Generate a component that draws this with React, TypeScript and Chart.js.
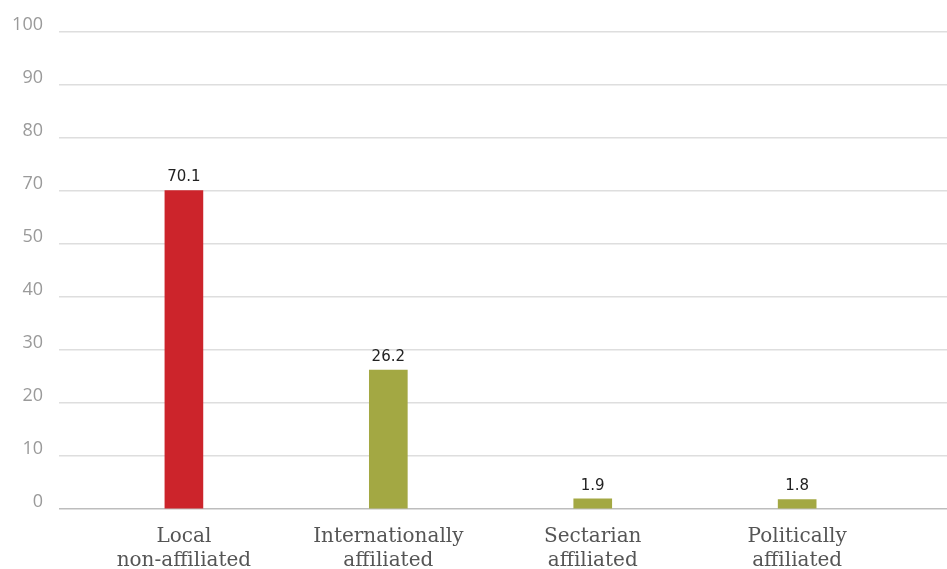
import React, { useEffect, useRef } from "react";
import { Chart, registerables } from "chart.js";

Chart.register(...registerables);

const categories: string[][] = [
  ["Local", "non-affiliated"],
  ["Internationally", "affiliated"],
  ["Sectarian", "affiliated"],
  ["Politically", "affiliated"],
];
const values: number[] = [70.1, 26.2, 1.9, 1.8];
const valueLabels: string[] = ["70.1", "26.2", "1.9", "1.8"];
const barColors: string[] = ["#cc242b", "#a3a843", "#a3a843", "#a3a843"];
const yTickLabels: number[] = [0, 10, 20, 30, 40, 50, 70, 80, 90, 100];

// The original axis skips 60: map a value onto the evenly spaced gridlines.
function toAxis(v: number): number {
  for (let i = 0; i < yTickLabels.length - 1; i++) {
    const a = yTickLabels[i];
    const b = yTickLabels[i + 1];
    if (v >= a && v <= b) return i + (v - a) / (b - a);
  }
  return yTickLabels.length - 1;
}

const valueLabelPlugin = {
  id: "valueLabels",
  afterDatasetsDraw(chart: any) {
    const ctx = chart.ctx;
    const meta = chart.getDatasetMeta(0);
    ctx.save();
    ctx.font = "15px 'DejaVu Sans'";
    ctx.fillStyle = "#222222";
    ctx.textAlign = "center";
    ctx.textBaseline = "alphabetic";
    meta.data.forEach((bar: any, i: number) => {
      ctx.fillText(valueLabels[i], bar.x, bar.y - 9);
    });
    ctx.restore();
  },
};

export default function App() {
  const ref = useRef<HTMLCanvasElement | null>(null);

  useEffect(() => {
    document.body.style.margin = "0";
    if (!ref.current) return;
    const chart = new Chart(ref.current, {
      type: "bar",
      data: {
        datasets: [
          {
            data: values.map((v, i) => ({ x: i, y: toAxis(v) })),
            backgroundColor: barColors,
            borderWidth: 0,
            barThickness: 38,
          },
        ],
      },
      options: {
        animation: false,
        responsive: false,
        devicePixelRatio: 1,
        layout: { padding: { top: 32, left: 0, right: 0, bottom: 0 } },
        plugins: {
          legend: { display: false },
          tooltip: { enabled: false },
        },
        scales: {
          x: {
            type: "linear",
            offset: false,
            min: -0.611,
            max: 3.733,
            afterBuildTicks: (scale: any) => {
              scale.ticks = categories.map((_, i) => ({ value: i }));
            },
            afterFit: (scale: any) => {
              scale.height = 60;
            },
            grid: { display: false, drawTicks: false, offset: false },
            border: { display: false },
            ticks: {
              autoSkip: false,
              maxRotation: 0,
              padding: 16,
              color: "#555555",
              font: { family: "'DejaVu Serif'", size: 20, lineHeight: 1.2 },
              callback: (value: any) => categories[Math.round(Number(value))] as any,
            },
          },
          y: {
            type: "linear",
            min: 0,
            max: yTickLabels.length - 1,
            afterBuildTicks: (scale: any) => {
              scale.ticks = yTickLabels.map((_, i) => ({ value: i }));
            },
            afterFit: (scale: any) => {
              scale.width = 59;
            },
            grid: {
              drawTicks: false,
              lineWidth: 1.5,
              color: (ctx: any) => (ctx.tick && ctx.tick.value === 0 ? "#bdbdbd" : "#dedede"),
            },
            border: { display: false },
            ticks: {
              padding: 16,
              labelOffset: -7,
              color: "#9a9a9a",
              font: { family: "'Open Sans'", size: 18 },
              callback: (value: any) => String(yTickLabels[Math.round(Number(value))]),
            },
          },
        },
      },
      plugins: [valueLabelPlugin],
    } as any);
    return () => chart.destroy();
  }, []);

  return (
    <div style={{ width: 947, height: 569 }}>
      <canvas ref={ref} width={947} height={569} style={{ display: "block" }} />
    </div>
  );
}
